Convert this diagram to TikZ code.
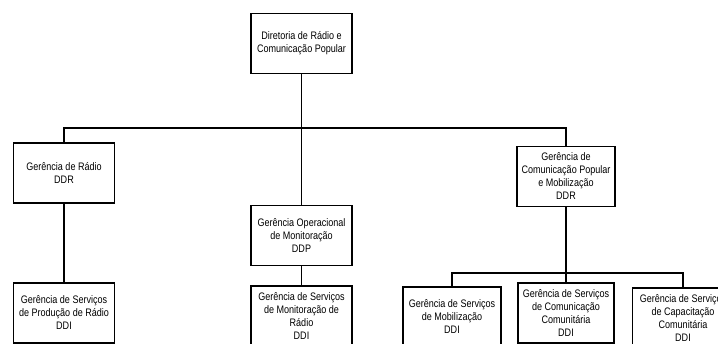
\documentclass[tikz,border=0pt]{standalone}
\usepackage{fontspec}
\setmainfont[FakeStretch=0.83]{Liberation Sans}
\begin{document}
\begin{tikzpicture}[x=0.02cm,y=-0.02cm,line width=0.6pt,
    bx/.style={draw,line width=0.7pt,minimum width=2.02cm,minimum height=1.2cm,
      align=center,inner sep=1pt,font=\fontsize{6.2}{7.4}\selectfont}]
  \useasboundingbox (0,0) rectangle (718,343);
  \clip (0,0) rectangle (718,343);
  \node[bx] (dir) at (301.5,43.5) {Diretoria de Rádio e\\Comunicação Popular};
  \coordinate (bus1) at (301.5,128);
  \node[bx] (rad) at (64,173) {Gerência de Rádio\\DDR};
  \node[bx] (mon) at (301.5,235.5) {Gerência Operacional\\de Monitoração\\DDP};
  \node[bx,minimum width=1.96cm] (com) at (566,176.5) {Gerência de\\Comunicação Popular\\e Mobilização\\DDR};
  \draw (dir) -- (mon);
  \draw (rad.north) -- (rad.north |- bus1) -- (com.north |- bus1) -- (com.north);
  \node[bx] (prod) at (64,313) {Gerência de Serviços\\de Produção de Rádio\\DDI};
  \draw (rad) -- (prod);
  \node[bx] (smon) at (301.5,316) {Gerência de Serviços\\de Monitoração de\\Rádio\\DDI};
  \draw (mon) -- (smon);
  \coordinate (bus2) at (566,273);
  \node[bx,minimum width=1.96cm] (mob) at (452,317) {Gerência de Serviços\\de Mobilização\\DDI};
  \node[bx,minimum width=1.92cm] (scom) at (566,313) {Gerência de Serviços\\de Comunicação\\Comunitária\\DDI};
  \node[bx] (cap) at (683,318) {Gerência de Serviços\\de Capacitação\\Comunitária\\DDI};
  \draw (com) -- (scom);
  \draw (mob.north) -- (mob.north |- bus2) -- (cap.north |- bus2) -- (cap.north);
\end{tikzpicture}
\end{document}
